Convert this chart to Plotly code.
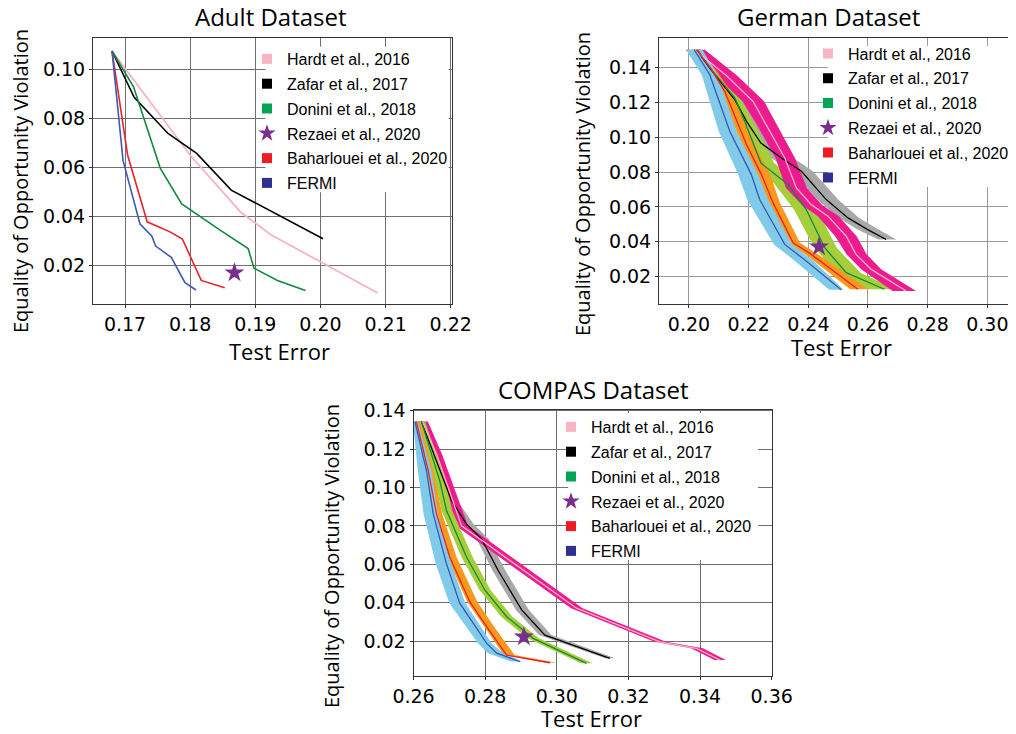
import plotly.graph_objects as go

# the page adds an 8px body margin, so the figure is drawn 8px in from the corner
OFFSET = 8
W, H = 1016 - OFFSET, 734 - OFFSET

METHODS = ["Hardt et al., 2016", "Zafar et al., 2017", "Donini et al., 2018",
           "Rezaei et al., 2020", "Baharlouei et al., 2020", "FERMI"]
LEGEND_COLORS = ["#f7b6c6", "#000000", "#00a651", "#7b2d8e", "#ed1c24", "#2e3192"]

# ---- Adult dataset (no bands)
adult_hardt_x = [0.1680, 0.1800, 0.1878, 0.1924, 0.2088]
adult_hardt_y = [0.1075, 0.0650, 0.0417, 0.0326, 0.0089]
adult_zafar_x = [0.1680, 0.1714, 0.1766, 0.1810, 0.1863, 0.2004]
adult_zafar_y = [0.1075, 0.0886, 0.0739, 0.0658, 0.0508, 0.0310]
adult_donini_x = [0.1680, 0.1713, 0.1754, 0.1787, 0.1846, 0.1889, 0.1898, 0.1934, 0.1977]
adult_donini_y = [0.1075, 0.0929, 0.0598, 0.0452, 0.0345, 0.0270, 0.0190, 0.0140, 0.0099]
adult_bahar_x = [0.1680, 0.1704, 0.1734, 0.1769, 0.1788, 0.1817, 0.1853]
adult_bahar_y = [0.1075, 0.0650, 0.0379, 0.0338, 0.0309, 0.0140, 0.0110]
adult_fermi_x = [0.1680, 0.1697, 0.1723, 0.1741, 0.1747, 0.1771, 0.1792, 0.1809]
adult_fermi_y = [0.1075, 0.0628, 0.0370, 0.0321, 0.0280, 0.0234, 0.0131, 0.0101]
adult_rezaei = (0.1868, 0.0171)

# ---- German dataset: mean curve plus band edges (lo / hi test error)
ger_hardt_y = [0.150, 0.1352, 0.1204, 0.1070, 0.0880, 0.0709, 0.0613, 0.0547, 0.0432, 0.0328, 0.0242, 0.0118]
ger_hardt_x = [0.2018, 0.2126, 0.2215, 0.2260, 0.2321, 0.2360, 0.2410, 0.2466, 0.2527, 0.2560, 0.2611, 0.2728]
ger_hardt_lo = [0.1988, 0.2090, 0.2180, 0.2228, 0.2290, 0.2325, 0.2378, 0.2432, 0.2490, 0.2528, 0.2578, 0.2683]
ger_hardt_hi = [0.2053, 0.2162, 0.2252, 0.2295, 0.2355, 0.2395, 0.2445, 0.2502, 0.2562, 0.2595, 0.2645, 0.2761]

ger_zafar_y = [0.150, 0.1394, 0.1213, 0.1090, 0.0966, 0.0880, 0.0804, 0.0642, 0.0537, 0.0470, 0.0413]
ger_zafar_x = [0.2026, 0.2070, 0.2154, 0.2193, 0.2241, 0.2310, 0.2377, 0.2460, 0.2533, 0.2599, 0.2661]
ger_zafar_lo = [0.2010, 0.2052, 0.2130, 0.2165, 0.2205, 0.2275, 0.2345, 0.2430, 0.2503, 0.2565, 0.2635]
ger_zafar_hi = [0.2040, 0.2090, 0.2180, 0.2225, 0.2280, 0.2350, 0.2415, 0.2500, 0.2570, 0.2635, 0.2695]

ger_donini_y = [0.150, 0.1375, 0.1223, 0.1090, 0.0851, 0.0728, 0.0585, 0.0366, 0.0223, 0.0128]
ger_donini_x = [0.2029, 0.2081, 0.2154, 0.2187, 0.2241, 0.2332, 0.2393, 0.2455, 0.2527, 0.2655]
ger_donini_lo = [0.2015, 0.2065, 0.2135, 0.2165, 0.2218, 0.2288, 0.2352, 0.2420, 0.2495, 0.2600]
ger_donini_hi = [0.2040, 0.2095, 0.2172, 0.2215, 0.2285, 0.2370, 0.2430, 0.2495, 0.2575, 0.2692]

ger_bahar_y = [0.150, 0.1385, 0.1261, 0.0956, 0.0785, 0.0623, 0.0394, 0.0328, 0.0128]
ger_bahar_x = [0.2026, 0.2076, 0.2120, 0.2193, 0.2243, 0.2282, 0.2349, 0.2410, 0.2566]
ger_bahar_lo = [0.2010, 0.2060, 0.2105, 0.2178, 0.2228, 0.2265, 0.2330, 0.2390, 0.2540]
ger_bahar_hi = [0.2035, 0.2090, 0.2140, 0.2220, 0.2272, 0.2305, 0.2372, 0.2432, 0.2600]

ger_fermi_y = [0.150, 0.1356, 0.1032, 0.0785, 0.0642, 0.0385, 0.0290, 0.0125]
ger_fermi_x = [0.2018, 0.2070, 0.2137, 0.2209, 0.2237, 0.2321, 0.2393, 0.2510]
ger_fermi_lo = [0.1990, 0.2043, 0.2100, 0.2165, 0.2195, 0.2285, 0.2355, 0.2470]
ger_fermi_hi = [0.2045, 0.2095, 0.2160, 0.2232, 0.2265, 0.2345, 0.2418, 0.2518]
ger_rezaei = (0.2436, 0.0372)

# ---- COMPAS dataset
com_hardt_y = [0.1343, 0.1170, 0.0800, 0.0371, 0.0196, 0.0162, 0.0101]
com_hardt_x = [0.2625, 0.2665, 0.2734, 0.3055, 0.3288, 0.3390, 0.3456]
com_hardt_lo = [0.2610, 0.2652, 0.2718, 0.3040, 0.3273, 0.3375, 0.3440]
com_hardt_hi = [0.2640, 0.2680, 0.2752, 0.3072, 0.3305, 0.3408, 0.3472]

com_zafar_y = [0.1343, 0.0932, 0.0809, 0.0732, 0.0569, 0.0362, 0.0231, 0.0110]
com_zafar_x = [0.2622, 0.2706, 0.2748, 0.2790, 0.2836, 0.2902, 0.2967, 0.3148]
com_zafar_lo = [0.2612, 0.2694, 0.2736, 0.2776, 0.2820, 0.2886, 0.2950, 0.3135]
com_zafar_hi = [0.2632, 0.2722, 0.2768, 0.2810, 0.2856, 0.2922, 0.2985, 0.3163]

com_donini_y = [0.1343, 0.1036, 0.0880, 0.0638, 0.0466, 0.0327, 0.0214, 0.0084]
com_donini_x = [0.2622, 0.2673, 0.2692, 0.2748, 0.2799, 0.2860, 0.2934, 0.3083]
com_donini_lo = [0.2612, 0.2660, 0.2678, 0.2734, 0.2784, 0.2845, 0.2918, 0.3068]
com_donini_hi = [0.2632, 0.2688, 0.2708, 0.2765, 0.2815, 0.2876, 0.2950, 0.3100]

com_bahar_y = [0.1343, 0.1088, 0.0862, 0.0638, 0.0405, 0.0275, 0.0127, 0.0087]
com_bahar_x = [0.2608, 0.2641, 0.2664, 0.2701, 0.2757, 0.2804, 0.2860, 0.2981]
com_bahar_lo = [0.2602, 0.2635, 0.2657, 0.2694, 0.2750, 0.2797, 0.2852, 0.2970]
com_bahar_hi = [0.2618, 0.2655, 0.2680, 0.2720, 0.2778, 0.2825, 0.2882, 0.3000]

com_fermi_y = [0.1343, 0.1088, 0.0862, 0.0602, 0.0397, 0.0189, 0.0137, 0.0093]
com_fermi_x = [0.2604, 0.2636, 0.2655, 0.2692, 0.2729, 0.2804, 0.2832, 0.2897]
com_fermi_lo = [0.2598, 0.2612, 0.2628, 0.2662, 0.2700, 0.2780, 0.2808, 0.2872]
com_fermi_hi = [0.2612, 0.2650, 0.2668, 0.2705, 0.2745, 0.2818, 0.2850, 0.2905]
com_rezaei = (0.2908, 0.0222)

LINE = {"hardt": "#f7b3c4", "zafar": "#000000", "donini": "#13893f",
        "bahar": "#e8232a", "fermi": "#3a57b0"}
BAND = {"hardt": "#ec1c8e", "zafar": "#a8a8a8", "donini": "#a6cd3a",
        "bahar": "#f8981d", "fermi": "#80cbea"}
STAR = "#7b2d8e"

TICK_FONT = {"family": "DejaVu Sans", "size": 19, "color": "#000"}
TEXT_FONT = "Open Sans"

fig = go.Figure()


def px_x(p):
    # page pixel -> paper fraction
    return (p - OFFSET) / W


def px_y(p):
    return 1 - (p - OFFSET) / H


def add_line(xa, ya, xs, ys, color, width):
    fig.add_scatter(x=xs, y=ys, mode="lines", xaxis=xa, yaxis=ya,
                    line={"color": color, "width": width}, showlegend=False,
                    hoverinfo="skip")


def add_band(xa, ya, lo, hi, ys, color):
    fig.add_scatter(x=lo + hi[::-1], y=ys + ys[::-1], mode="lines", fill="toself",
                    fillcolor=color, line={"width": 0, "color": color},
                    xaxis=xa, yaxis=ya, showlegend=False, hoverinfo="skip")


def add_star(xa, ya, pt, size):
    fig.add_scatter(x=[pt[0]], y=[pt[1]], mode="markers", xaxis=xa, yaxis=ya,
                    marker={"symbol": "star", "size": size, "color": STAR,
                            "line": {"width": 0}},
                    showlegend=False, hoverinfo="skip")


def add_legend(legend_id):
    for name, color in zip(METHODS, LEGEND_COLORS):
        symbol = "star" if name.startswith("Rezaei") else "square"
        fig.add_scatter(x=[None], y=[None], mode="markers", name=name,
                        legend=legend_id, legendgroup=f"{legend_id}-{name}",
                        marker={"symbol": symbol, "color": color,
                                "size": 13 if symbol == "star" else 10,
                                "line": {"width": 0}})


# Adult
add_line("x", "y", adult_hardt_x, adult_hardt_y, LINE["hardt"], 1.8)
add_line("x", "y", adult_zafar_x, adult_zafar_y, LINE["zafar"], 1.6)
add_line("x", "y", adult_donini_x, adult_donini_y, LINE["donini"], 1.6)
add_line("x", "y", adult_bahar_x, adult_bahar_y, LINE["bahar"], 1.6)
add_line("x", "y", adult_fermi_x, adult_fermi_y, "#3d5ab4", 1.6)
add_star("x", "y", adult_rezaei, 15)

# German and COMPAS: shaded bands first, then the mean curves on top
german = [
    ("zafar", ger_zafar_x, ger_zafar_y, ger_zafar_lo, ger_zafar_hi),
    ("donini", ger_donini_x, ger_donini_y, ger_donini_lo, ger_donini_hi),
    ("hardt", ger_hardt_x, ger_hardt_y, ger_hardt_lo, ger_hardt_hi),
    ("bahar", ger_bahar_x, ger_bahar_y, ger_bahar_lo, ger_bahar_hi),
    ("fermi", ger_fermi_x, ger_fermi_y, ger_fermi_lo, ger_fermi_hi),
]
compas = [
    ("zafar", com_zafar_x, com_zafar_y, com_zafar_lo, com_zafar_hi),
    ("hardt", com_hardt_x, com_hardt_y, com_hardt_lo, com_hardt_hi),
    ("donini", com_donini_x, com_donini_y, com_donini_lo, com_donini_hi),
    ("bahar", com_bahar_x, com_bahar_y, com_bahar_lo, com_bahar_hi),
    ("fermi", com_fermi_x, com_fermi_y, com_fermi_lo, com_fermi_hi),
]
for xa, ya, series, star in (("x2", "y2", german, ger_rezaei), ("x3", "y3", compas, com_rezaei)):
    for key, xs, ys, lo, hi in series:
        add_band(xa, ya, lo, hi, ys, BAND[key])
    for key, xs, ys, lo, hi in series:
        add_line(xa, ya, xs, ys, LINE[key], 1.3)
    add_star(xa, ya, star, 15)

add_legend("legend")
add_legend("legend2")
add_legend("legend3")


def axis_style(domain, rng, dtick, grid):
    return {
        "domain": domain, "range": rng, "dtick": dtick, "tickformat": ".2f",
        "showgrid": True, "gridcolor": grid, "gridwidth": 1,
        "showline": True, "linecolor": "#333", "linewidth": 1, "mirror": True,
        "ticks": "outside", "ticklen": 3, "tickcolor": "#333",
        "tickfont": TICK_FONT, "zeroline": False, "fixedrange": True,
        "automargin": False,
    }


grid_dark = "#6f6f6f"
grid_light = "#9a9a9a"
fig.update_layout(
    xaxis=axis_style([px_x(93), px_x(452)], [0.16508, 0.2202], 0.01, grid_dark) | {"anchor": "y", "tick0": 0.17},
    yaxis=axis_style([px_y(304), px_y(38)], [0.0044, 0.1128], 0.02, grid_dark) | {"anchor": "x"},
    xaxis2=axis_style([px_x(659), 1.0], [0.18995, 0.30961], 0.02, grid_light) | {"anchor": "y2"},
    yaxis2=axis_style([px_y(304), px_y(38)], [0.00436, 0.15679], 0.02, grid_light) | {"anchor": "x2"},
    xaxis3=axis_style([px_x(413.5), px_x(771.7)], [0.25999, 0.36001], 0.02, grid_dark) | {"anchor": "y3"},
    yaxis3=axis_style([px_y(676), px_y(409.5)], [0.0018, 0.1406], 0.02, grid_dark) | {"anchor": "x3"},
)

# white panels behind the legends (hide the grid there)
legend_boxes = [
    ("x", "y", 0.19154, 0.2197, 0.0499, 0.1092),
    ("x2", "y2", 0.2466, 0.3075, 0.0714, 0.1522),
    ("x3", "y3", 0.3032, 0.3562, 0.0622, 0.1388),
]
for xr, yr, x0, x1, y0, y1 in legend_boxes:
    fig.add_shape(type="rect", xref=xr, yref=yr, x0=x0, x1=x1, y0=y0, y1=y1,
                  fillcolor="white", line={"width": 0}, layer="between")

legend_common = {
    "bgcolor": "rgba(0,0,0,0)", "borderwidth": 0, "xanchor": "left",
    "yanchor": "top", "tracegroupgap": 1,
    "font": {"family": "Liberation Sans", "size": 16, "color": "#000"},
}
fig.update_layout(
    legend=legend_common | {"x": px_x(247), "y": px_y(42)},
    legend2=legend_common | {"x": px_x(808), "y": px_y(36.5)},
    legend3=legend_common | {"x": px_x(551), "y": px_y(410)},
)

texts = [
    ("Adult Dataset", 270.5, 16, 24, 0),
    ("German Dataset", 828.5, 16, 24, 0),
    ("COMPAS Dataset", 593, 389, 24, 0),
    ("Test Error", 279.5, 351, 22, 0),
    ("Test Error", 841, 346.7, 22, 0),
    ("Test Error", 591.7, 718, 22, 0),
    ("Equality of Opportunity Violation", 20, 181, 20, -90),
    ("Equality of Opportunity Violation", 582, 184, 20, -90),
    ("Equality of Opportunity Violation", 331, 556, 20, -90),
]
for text, x, y, size, angle in texts:
    fig.add_annotation(text=text, x=px_x(x), y=px_y(y), xref="paper", yref="paper",
                       xanchor="center", yanchor="middle", showarrow=False,
                       textangle=angle,
                       font={"family": TEXT_FONT, "size": size, "color": "#000"})

fig.update_layout(
    width=W, height=H, autosize=False,
    margin={"l": 0, "r": 0, "t": 0, "b": 0},
    paper_bgcolor="white", plot_bgcolor="white",
    showlegend=True,
)

fig.write_html("out.html")
